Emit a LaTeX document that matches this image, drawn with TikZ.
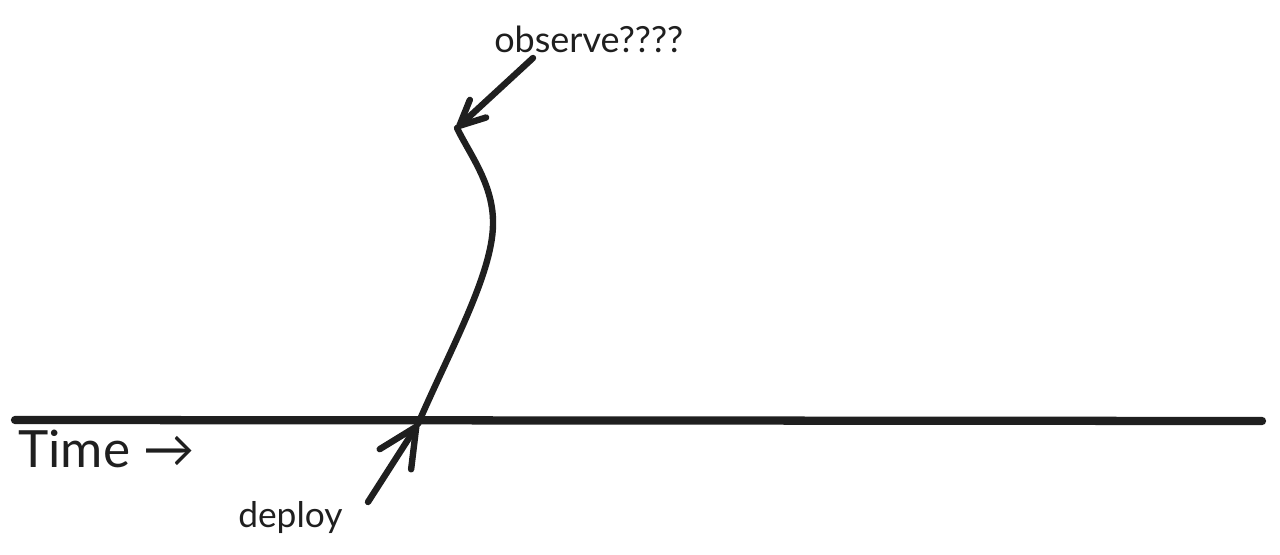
\documentclass[tikz,border=0pt]{standalone}
\usepackage{fontspec}
\setmainfont{Lato}
\usetikzlibrary{arrows.meta}
\begin{document}
\begin{tikzpicture}[x=0.75pt,y=-0.75pt,
  ink/.style={draw=black!88, line cap=round, line join=round},
  lbl/.style={inner sep=0pt, text=black!88, anchor=base west},
  bigbarb/.style={-{Straight Barb[length=29pt,width=28pt,line cap=round,line join=round]}},
  smallbarb/.style={-{Straight Barb[length=19pt,width=18pt,line cap=round,line join=round]}}]
\useasboundingbox (0,0) rectangle (1280,555);
% time axis
\coordinate (axL) at (15,420);
\coordinate (axR) at (1262,421);
\draw[ink, line width=6.2pt] (axL) -- (axR);
% labels
\node[lbl, font=\fontsize{38.5}{42}\selectfont] (time) at (18,467) {Time →};
\node[lbl, font=\fontsize{26.5}{29}\selectfont] (deploy) at (238,527) {deploy};
\node[lbl, font=\fontsize{27}{30}\selectfont] (observe) at (494,53) {observe????};
% points
\coordinate (deployStart) at (368,502);
\coordinate (cross) at (418,424);
\coordinate (peak) at (457,128);
\coordinate (obsStart) at (533,58);
% deploy arrow
\draw[ink, line width=4.8pt, bigbarb] (deployStart) -- (cross);
% trajectory curve
\draw[ink, line width=4.8pt] (cross) .. controls (450,350) and (492,275) .. (493,225)
  .. controls (494,185) and (470,155) .. (peak);
% observe arrow
\draw[ink, line width=4.8pt, smallbarb] (obsStart) -- (peak);
\end{tikzpicture}
\end{document}
